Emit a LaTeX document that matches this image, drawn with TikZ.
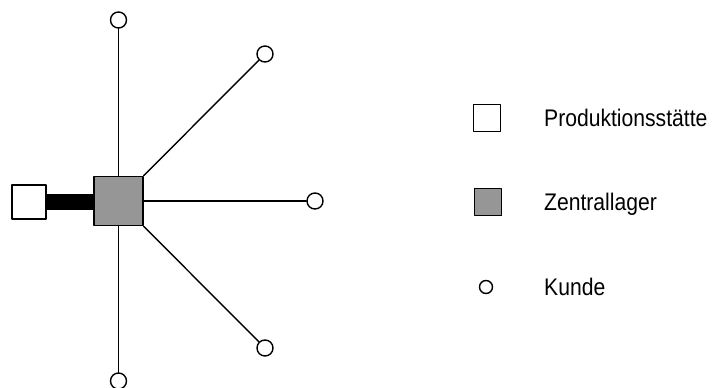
\documentclass[tikz,border=0pt]{standalone}
\usepackage{fontspec}
\setmainfont{Liberation Sans}
\newfontfamily\schmalfont[FakeStretch=0.88]{Liberation Sans}
\definecolor{lagergrau}{RGB}{150,150,150}

\begin{document}
\begin{tikzpicture}[x=1pt,y=-1pt,line cap=round,line join=round,
	werkbox/.style={draw,line width=1.5pt,fill=white,minimum size=34pt,inner sep=0pt},
	lagerbox/.style={draw,line width=1.5pt,fill=lagergrau,minimum size=49pt,inner sep=0pt},
	kunde/.style={draw,line width=1.4pt,fill=white,circle,minimum size=16pt,inner sep=0pt},
	legtext/.style={anchor=base west,inner sep=0pt,font=\schmalfont\fontsize{24}{28}\selectfont}]
	\useasboundingbox (0,0) rectangle (713,388);
	\node[lagerbox] (lager) at (118.5,201) {};
	\node[werkbox] (werk) at (29,202) {};
	\draw[line width=16pt,line cap=butt] (werk.east) -- (werk.east -| lager.west);
	\node[kunde] (k1) at (118.5,20) {};
	\node[kunde] (k2) at (265,54) {};
	\node[kunde] (k3) at (315,201) {};
	\node[kunde] (k4) at (265,348) {};
	\node[kunde] (k5) at (118.5,381) {};
	\foreach \k in {1,...,5}
		\draw[line width=1.4pt] (lager) -- (k\k);
	% Legende
	\node[werkbox,minimum size=27pt] (legwerk) at (487,118) {};
	\node[lagerbox,minimum size=27pt] (leglager) at (488,202) {};
	\node[kunde,minimum size=13pt] (legkunde) at (486,287) {};
	\node[legtext] (txtwerk) at (544,126.5) {Produktionsstätte};
	\node[legtext] (txtlager) at (544,210.5) {Zentrallager};
	\node[legtext] (txtkunde) at (544,295.5) {Kunde};
\end{tikzpicture}
\end{document}
